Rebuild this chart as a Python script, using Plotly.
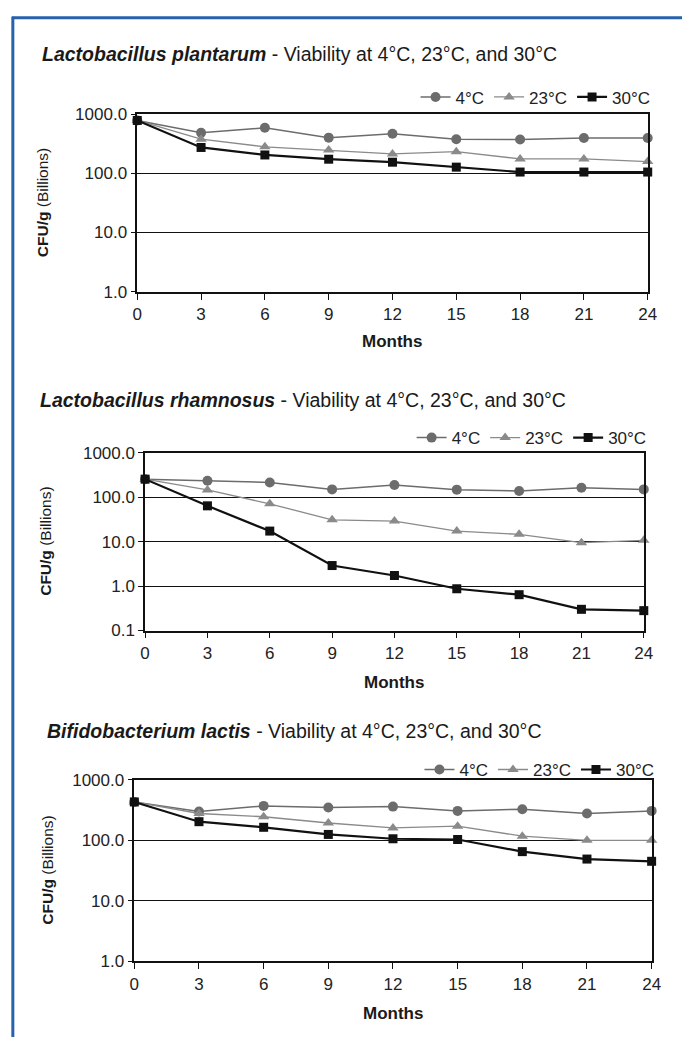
import plotly.graph_objects as go

W, H = 691, 1047

# ---------------- data ----------------
months = [0, 3, 6, 9, 12, 15, 18, 21, 24]
series_names = ["4°C", "23°C", "30°C"]

plantarum_4 = [780, 484, 586, 400, 466, 376, 371, 395, 395]
plantarum_23 = [780, 376, 280, 247, 212, 232, 175, 175, 158]
plantarum_30 = [780, 273, 204, 173, 154, 127, 105, 105, 105]

rhamnosus_4 = [255, 235, 215, 150, 188, 148, 138, 164, 150]
rhamnosus_23 = [255, 146, 71, 31, 29, 17.3, 14.6, 9.5, 10.7]
rhamnosus_30 = [255, 64, 17.3, 2.9, 1.73, 0.87, 0.64, 0.30, 0.28]

lactis_4 = [430, 299, 370, 347, 360, 306, 326, 277, 306]
lactis_23 = [430, 277, 245, 193, 160, 171, 117, 100, 100]
lactis_30 = [430, 203, 164, 125, 106, 103, 65, 49, 45]

titles_species = ["Lactobacillus plantarum", "Lactobacillus rhamnosus", "Bifidobacterium lactis"]
title_suffix = " - Viability at 4°C, 23°C, and 30°C"

y_ticks_a = [1, 10, 100, 1000]
y_labels_a = ["1.0", "10.0", "100.0", "1000.0"]
y_ticks_b = [0.1, 1, 10, 100, 1000]
y_labels_b = ["0.1", "1.0", "10.0", "100.0", "1000.0"]

x_title = "Months"
y_title = "<b>CFU/g</b> (Billions)"

# ---------------- layout geometry (pixels) ----------------
panels = [
    dict(x0=135, x1=656, y0=107, y1=288, title_y=46, title_x=36, legend_y=90,
         ytitle_x=39, months_y=339, data=[plantarum_4, plantarum_23, plantarum_30],
         ticks=(y_ticks_a, y_labels_a), yr=[0, 3]),
    dict(x0=143, x1=652, y0=452, y1=633, title_y=398, title_x=34, legend_y=437,
         ytitle_x=42, months_y=686, data=[rhamnosus_4, rhamnosus_23, rhamnosus_30],
         ticks=(y_ticks_b, y_labels_b), yr=[-1, 3]),
    dict(x0=132, x1=660, y0=785, y1=970, title_y=735, title_x=41, legend_y=775,
         ytitle_x=43, months_y=1023, data=[lactis_4, lactis_23, lactis_30],
         ticks=(y_ticks_a, y_labels_a), yr=[0, 3]),
]

styles = [
    dict(color="#6c6c6c", symbol="circle", msize=10, lw=1.5),
    dict(color="#8a8a8a", symbol="triangle-up", msize=10, lw=1.3),
    dict(color="#111111", symbol="square", msize=9, lw=2.2),
]

FONT = "Liberation Sans, Arial, Helvetica, sans-serif"

def px_x(p):
    return p / W

def px_y(p):
    return 1 - p / H

fig = go.Figure()
layout = dict(
    width=W, height=H,
    margin=dict(l=0, r=0, t=0, b=0),
    paper_bgcolor="white", plot_bgcolor="white",
    font=dict(family=FONT, color="#1a1a1a", size=16),
    annotations=[], shapes=[],
)

for i, p in enumerate(panels):
    sfx = "" if i == 0 else str(i + 1)
    xa, ya = "x" + sfx, "y" + sfx
    leg = "legend" if i == 0 else "legend" + str(i + 1)
    for j, name in enumerate(series_names):
        s = styles[j]
        fig.add_trace(go.Scatter(
            x=months, y=p["data"][j], name=name, mode="lines+markers",
            xaxis=xa, yaxis=ya, legend=leg, cliponaxis=False,
            line=dict(color=s["color"], width=s["lw"]),
            marker=dict(symbol=s["symbol"], size=s["msize"], color=s["color"]),
        ))
    layout["xaxis" + sfx] = dict(
        domain=[px_x(p["x0"]), px_x(p["x1"])], anchor=ya,
        range=[0, 24], tickvals=months, ticktext=[str(m) for m in months],
        showgrid=False, zeroline=False, showline=True, mirror=True,
        linecolor="#111", linewidth=1.5, ticks="outside", ticklen=6,
        tickcolor="#111", tickwidth=1.2, tickfont=dict(size=17, color="#222"),
    )
    tv, tt = p["ticks"]
    layout["yaxis" + sfx] = dict(
        domain=[px_y(p["y1"]), px_y(p["y0"])], anchor=xa, type="log",
        range=p["yr"], tickvals=tv, ticktext=tt,
        showgrid=True, gridcolor="#111", gridwidth=1.4, zeroline=False,
        showline=True, mirror=True, linecolor="#111", linewidth=1.5,
        ticks="outside", ticklen=5, tickcolor="#111", tickwidth=1.2,
        tickfont=dict(size=17, color="#222"),
    )
    layout[leg] = dict(
        orientation="h", x=px_x(p["x1"] + 8), xanchor="right",
        y=px_y(p["legend_y"]), yanchor="middle",
        bgcolor="rgba(0,0,0,0)", font=dict(size=17, color="#222"),
        itemwidth=30, tracegroupgap=0,
    )
    layout["annotations"].append(dict(
        text="<b><i>" + titles_species[i] + "</i></b>" + title_suffix,
        x=px_x(p["title_x"]), y=px_y(p["title_y"]), xref="paper", yref="paper",
        xanchor="left", yanchor="middle", showarrow=False,
        font=dict(size=19.5, color="#1a1a1a"),
    ))
    layout["annotations"].append(dict(
        text=y_title, textangle=-90,
        x=px_x(p["ytitle_x"]), y=px_y((p["y0"] + p["y1"]) / 2),
        xref="paper", yref="paper", xanchor="center", yanchor="middle",
        showarrow=False, font=dict(size=15.5, color="#1a1a1a"),
    ))
    layout["annotations"].append(dict(
        text="<b>" + x_title + "</b>",
        x=px_x((p["x0"] + p["x1"]) / 2), y=px_y(p["months_y"]),
        xref="paper", yref="paper", xanchor="center", yanchor="middle",
        showarrow=False, font=dict(size=17, color="#1a1a1a"),
    ))

# blue frame (top and left edges)
layout["shapes"].append(dict(type="line", xref="paper", yref="paper",
                             x0=px_x(7), x1=1, y0=px_y(9), y1=px_y(9),
                             line=dict(color="#2762ab", width=3)))
layout["shapes"].append(dict(type="line", xref="paper", yref="paper",
                             x0=px_x(8), x1=px_x(8), y0=px_y(8), y1=0,
                             line=dict(color="#2762ab", width=3)))

fig.update_layout(**layout)
fig.write_html(
    "out.html",
    config={"displayModeBar": False},
    post_script="document.body.style.margin='0';document.body.style.overflow='hidden';",
)
